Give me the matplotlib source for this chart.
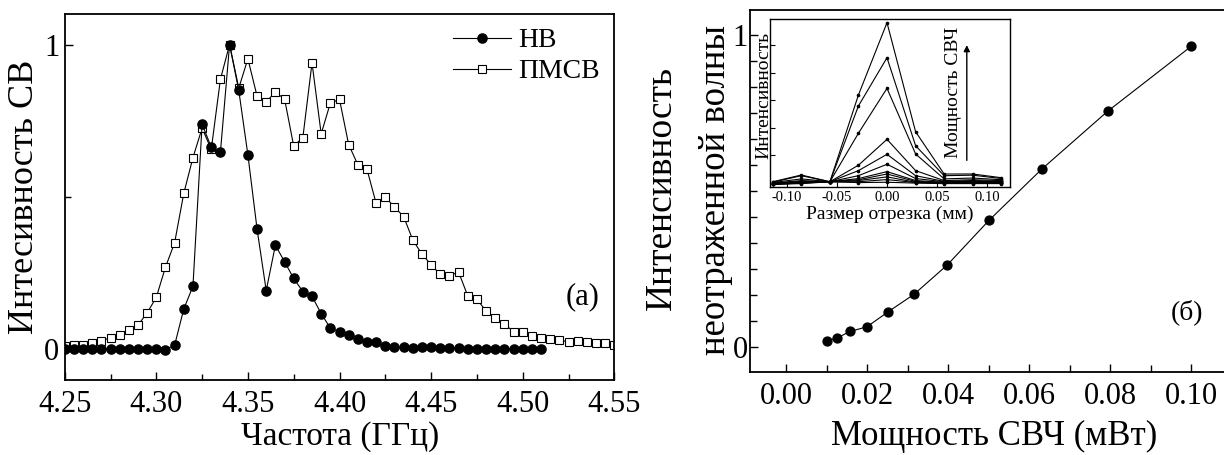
import matplotlib
matplotlib.use("Agg")
import matplotlib.pyplot as plt
from matplotlib.ticker import FixedLocator, NullFormatter

plt.rcParams['font.family'] = ['Liberation Serif', 'DejaVu Serif']

# ---------------- data: panel (a) ----------------
freq_nv = [4.250, 4.255, 4.260, 4.265, 4.270, 4.275, 4.280, 4.285, 4.290, 4.295,
           4.300, 4.305, 4.310, 4.315, 4.320, 4.325, 4.330, 4.335, 4.340, 4.345,
           4.350, 4.355, 4.360, 4.365, 4.370, 4.375, 4.380, 4.385, 4.390, 4.395,
           4.400, 4.405, 4.410, 4.415, 4.420, 4.425, 4.430, 4.435, 4.440, 4.445,
           4.450, 4.455, 4.460, 4.465, 4.470, 4.475, 4.480, 4.485, 4.490, 4.495,
           4.500, 4.505, 4.510]
int_nv = [0.002, 0.002, 0.002, 0.002, 0.002, 0.002, 0.002, 0.002, 0.003, 0.003,
          0.002, 0.000, 0.014, 0.133, 0.207, 0.739, 0.663, 0.647, 1.000, 0.850,
          0.638, 0.395, 0.193, 0.342, 0.288, 0.233, 0.190, 0.174, 0.118, 0.070,
          0.059, 0.046, 0.035, 0.026, 0.024, 0.011, 0.009, 0.007, 0.006, 0.008,
          0.008, 0.005, 0.004, 0.004, 0.003, 0.003, 0.003, 0.003, 0.003, 0.003,
          0.003, 0.003, 0.003]

freq_pmsv = [4.250, 4.255, 4.260, 4.265, 4.270, 4.275, 4.280, 4.285, 4.290, 4.295,
             4.300, 4.305, 4.310, 4.315, 4.320, 4.325, 4.330, 4.335, 4.340, 4.345,
             4.350, 4.355, 4.360, 4.365, 4.370, 4.375, 4.380, 4.385, 4.390, 4.395,
             4.400, 4.405, 4.410, 4.415, 4.420, 4.425, 4.430, 4.435, 4.440, 4.445,
             4.450, 4.455, 4.460, 4.465, 4.470, 4.475, 4.480, 4.485, 4.490, 4.495,
             4.500, 4.505, 4.510, 4.515, 4.520, 4.525, 4.530, 4.535, 4.540, 4.545,
             4.550]
int_pmsv = [0.011, 0.016, 0.016, 0.022, 0.029, 0.038, 0.046, 0.064, 0.080, 0.120,
            0.171, 0.270, 0.350, 0.512, 0.629, 0.726, 0.656, 0.886, 1.000, 0.857,
            0.953, 0.831, 0.813, 0.843, 0.822, 0.667, 0.695, 0.940, 0.707, 0.808,
            0.820, 0.672, 0.606, 0.591, 0.479, 0.500, 0.467, 0.436, 0.359, 0.313,
            0.278, 0.246, 0.242, 0.254, 0.176, 0.165, 0.126, 0.102, 0.084, 0.058,
            0.056, 0.044, 0.038, 0.035, 0.031, 0.025, 0.029, 0.025, 0.021, 0.020,
            0.014]

label_nv = "НВ"
label_pmsv = "ПМСВ"
freq_ticks = [4.25, 4.30, 4.35, 4.40, 4.45, 4.50, 4.55]
freq_ticklabels = ["4.25", "4.30", "4.35", "4.40", "4.45", "4.50", "4.55"]

# ---------------- data: panel (б) ----------------
power_mw = [0.0100, 0.0126, 0.0158, 0.0200, 0.0251, 0.0316, 0.0398, 0.0501,
            0.0631, 0.0794, 0.1000]
int_unrefl = [0.019, 0.028, 0.049, 0.064, 0.111, 0.168, 0.262, 0.405,
              0.569, 0.755, 0.963]
power_ticks = [0.00, 0.02, 0.04, 0.06, 0.08, 0.10]
power_ticklabels = ["0.00", "0.02", "0.04", "0.06", "0.08", "0.10"]

# ---------------- data: inset ----------------
seg_mm = [-0.1143, -0.0857, -0.0571, -0.0286, 0.0, 0.0286, 0.0571, 0.0857, 0.1143]
curve_01 = [0.033, 0.073, 0.033, 0.548, 0.978, 0.330, 0.079, 0.079, 0.057]
curve_02 = [0.030, 0.069, 0.033, 0.483, 0.770, 0.247, 0.069, 0.072, 0.052]
curve_03 = [0.028, 0.050, 0.033, 0.321, 0.588, 0.198, 0.050, 0.055, 0.045]
curve_04 = [0.025, 0.040, 0.033, 0.131, 0.285, 0.099, 0.040, 0.045, 0.040]
curve_05 = [0.023, 0.035, 0.033, 0.099, 0.196, 0.069, 0.035, 0.040, 0.035]
curve_06 = [0.022, 0.033, 0.033, 0.069, 0.137, 0.052, 0.033, 0.035, 0.033]
curve_07 = [0.020, 0.030, 0.033, 0.052, 0.093, 0.040, 0.030, 0.032, 0.030]
curve_08 = [0.020, 0.028, 0.033, 0.045, 0.079, 0.035, 0.028, 0.030, 0.028]
curve_09 = [0.018, 0.026, 0.033, 0.040, 0.062, 0.030, 0.026, 0.028, 0.026]
curve_10 = [0.018, 0.025, 0.033, 0.033, 0.046, 0.028, 0.025, 0.025, 0.025]
curve_11 = [0.017, 0.022, 0.033, 0.028, 0.030, 0.025, 0.022, 0.022, 0.022]
inset_curves = [curve_01, curve_02, curve_03, curve_04, curve_05, curve_06,
                curve_07, curve_08, curve_09, curve_10, curve_11]
seg_ticks = [-0.10, -0.05, 0.00, 0.05, 0.10]
seg_ticklabels = ["-0.10", "-0.05", "0.00", "0.05", "0.10"]

W, H = 1224, 455
fig = plt.figure(figsize=(W / 100, H / 100), dpi=100)


def px_axes(x0, y0, x1, y1):
    return fig.add_axes([x0 / W, 1 - y1 / H, (x1 - x0) / W, (y1 - y0) / H])


def ftext(x, y, s, **kw):
    return fig.text(x / W, 1 - y / H, s, **kw)


SPW = 1.3
LW = 0.8

# ---------------- panel (a) ----------------
axA = px_axes(64.7, 14, 614.3, 380)
axA.plot(freq_pmsv, int_pmsv, color='black', lw=LW, marker='s', ms=5.2,
         mfc='white', mec='black', mew=0.8, label=label_pmsv, zorder=2)
axA.plot(freq_nv, int_nv, color='black', lw=LW, marker='o', ms=6.6,
         mfc='black', mec='black', label=label_nv, zorder=3)
axA.set_xlim(4.25, 4.55)
axA.set_ylim(-0.1, 1.1)
axA.set_xticks(freq_ticks)
axA.set_xticklabels(freq_ticklabels)
axA.xaxis.set_minor_locator(FixedLocator([4.275, 4.325, 4.375, 4.425, 4.475, 4.525]))
axA.set_yticks([0, 1])
axA.set_yticklabels(["0", "1"])
axA.yaxis.set_minor_locator(FixedLocator([0.5]))
axA.tick_params(which='both', direction='in', labelsize=22, width=1.0)
axA.tick_params(which='major', length=6)
axA.tick_params(which='minor', length=4)
axA.tick_params(axis='x', pad=7)
axA.tick_params(axis='y', pad=4)
for s in axA.spines.values():
    s.set_linewidth(SPW)
ftext(340, 452, "Частота (ГГц)", fontsize=24, ha='center', va='bottom')
ftext(25, 197, "Интесивность СВ", fontsize=26, rotation=90,
      ha='center', va='center')
handles, labels = axA.get_legend_handles_labels()
axA.legend(handles[::-1], labels[::-1], loc='upper left',
           bbox_to_anchor=((453 - 64.7) / 549.6, (380 - 28) / 366),
           frameon=False, fontsize=20, handlelength=2.1, handletextpad=0.25,
           labelspacing=0.2, borderpad=0, borderaxespad=0)
ftext(583, 297, "(a)", fontsize=22, ha='center', va='center')

# ---------------- panel (б) ----------------
x0b, x1b = 750, 1250
axB = px_axes(x0b, 10, x1b, 372.3)
axB.plot(power_mw, int_unrefl, color='black', lw=LW, marker='o', ms=6.4,
         mfc='black', mec='black')
pxu = 4050.0
axB.set_xlim((x0b - 786) / pxu, (x1b - 786) / pxu)
axB.set_ylim(-0.082, 1.08)
axB.set_xticks(power_ticks)
axB.set_xticklabels(power_ticklabels)
axB.xaxis.set_minor_locator(FixedLocator([0.01, 0.03, 0.05, 0.07, 0.09, 0.11]))
axB.set_yticks([0, 1])
axB.set_yticklabels(["0", "1"])
axB.yaxis.set_minor_locator(FixedLocator([k / 12 for k in range(1, 12)]))
axB.tick_params(which='both', direction='in', labelsize=22, width=1.0)
axB.tick_params(which='major', length=6)
axB.tick_params(which='minor', length=5)
axB.tick_params(axis='x', pad=7)
axB.tick_params(axis='y', pad=1.5)
axB.spines['right'].set_visible(False)
for s in axB.spines.values():
    s.set_linewidth(SPW)
ftext(994, 453, "Мощность СВЧ (мВт)", fontsize=25, ha='center', va='bottom')
ftext(662, 188, "Интенсивность", fontsize=27, rotation=90,
      ha='center', va='center')
ftext(716, 190, "неотраженной волны", fontsize=26.5, rotation=90,
      ha='center', va='center')
ftext(1187, 312, "(б)", fontsize=20, ha='center', va='center')

# ---------------- inset ----------------
axI = px_axes(770, 19, 1010, 187.3)
for c in inset_curves:
    axI.plot(seg_mm, c, color='black', lw=0.8, marker='o', ms=1.6)
axI.set_xlim(-0.117, 0.123)
axI.set_ylim(0, 1)
axI.set_xticks(seg_ticks)
axI.set_xticklabels(seg_ticklabels)
axI.yaxis.set_major_locator(FixedLocator([0.19, 0.35, 0.52, 0.68, 0.845]))
axI.yaxis.set_major_formatter(NullFormatter())
axI.tick_params(which='both', direction='in', labelsize=10.5, width=0.8)
axI.tick_params(which='major', length=3.5)
axI.tick_params(axis='x', pad=3)
for s in axI.spines.values():
    s.set_linewidth(1.0)
axI.set_xlabel("Размер отрезка (мм)", fontsize=14, labelpad=1)
ftext(764, 95, "Интенсивность", fontsize=14, rotation=90,
      ha='center', va='center')
axI.annotate("", xy=(0.82, 0.845), xytext=(0.82, 0.16),
             xycoords='axes fraction', textcoords='axes fraction',
             arrowprops=dict(arrowstyle='-|>', color='black', lw=1.0,
                             mutation_scale=9, shrinkA=0, shrinkB=0))
ftext(953, 92, "Мощность СВЧ", fontsize=14, rotation=90,
      ha='center', va='center')

fig.savefig("out.png", dpi=100)
